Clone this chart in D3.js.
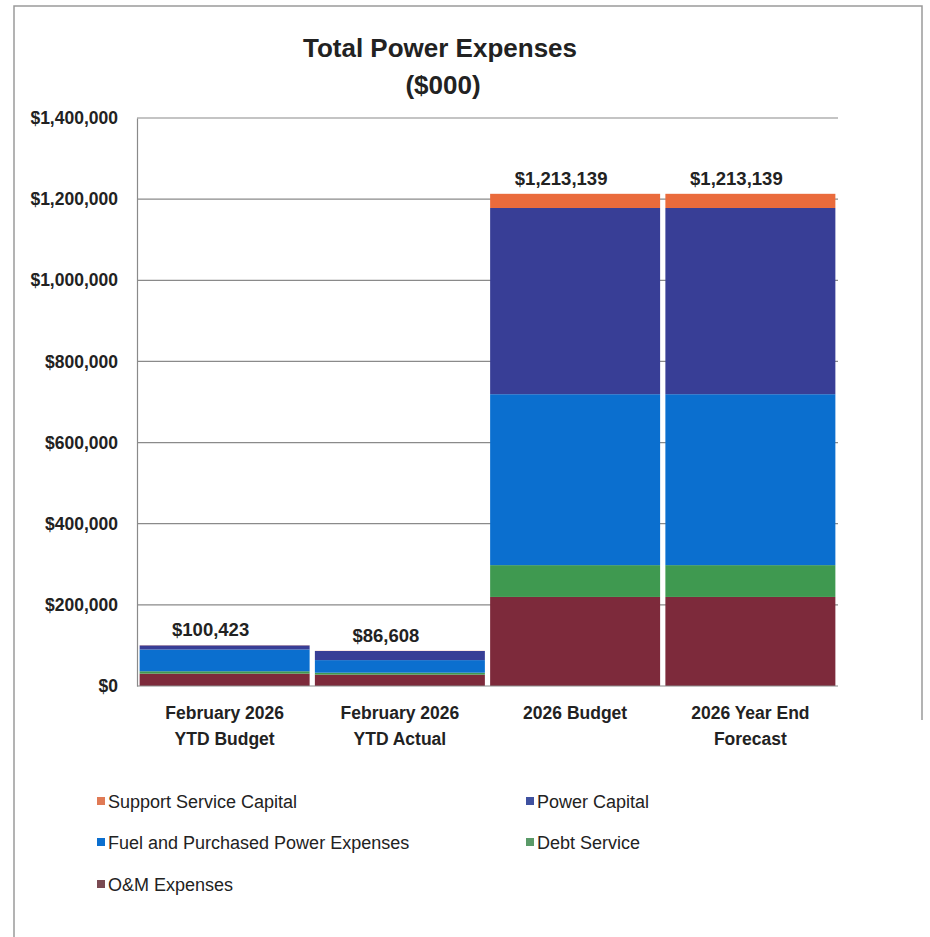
<!DOCTYPE html>
<html>
<head>
<meta charset="utf-8">
<script src="https://cdn.jsdelivr.net/npm/d3@7"></script>
<style>
  html, body { margin: 0; padding: 0; background: #fff; }
  svg text { font-family: "Liberation Sans Narrow", "Arial Narrow", "Liberation Sans", Arial, sans-serif; fill: #222; }
</style>
</head>
<body>
<svg id="chart" width="930" height="937"></svg>
<script>
// Categories along the x axis (two-line labels)
const categories = ["February 2026\nYTD Budget", "February 2026\nYTD Actual", "2026 Budget", "2026 Year End\nForecast"];

// Series values in $000, stacked bottom to top
const omExpenses        = [30500, 28000, 219500, 219500];
const debtService       = [5800, 4800, 78400, 78400];
const fuelPurchased     = [53800, 31000, 421300, 421300];
const powerCapital      = [9900, 22500, 459000, 459000];
const supportCapital    = [423, 308, 34939, 34939];

// Totals printed above each bar
const totals = [100423, 86608, 1213139, 1213139];

const seriesNames = ["O&M Expenses", "Debt Service", "Fuel and Purchased Power Expenses", "Power Capital", "Support Service Capital"];
const seriesColors = ["#7d2a3b", "#3f9950", "#0b6fcf", "#383e96", "#ea6b3c"];
const legendColors = ["#7a4a52", "#5a9a68", "#0b6fcf", "#3f51a0", "#e07a55"];

const yTicks = [0, 200000, 400000, 600000, 800000, 1000000, 1200000, 1400000];

const svg = d3.select("#chart");

// Outer frame
svg.append("path")
  .attr("d", "M14,937 L14,6 L922,6 L922,720")
  .attr("fill", "none").attr("stroke", "#9a9a9a").attr("stroke-width", 1.5);

const margin = { left: 137, right: 838, top: 118, bottom: 686 };

const x = d3.scaleBand()
  .domain(d3.range(categories.length))
  .range([margin.left, margin.right])
  .paddingInner(0.03)
  .paddingOuter(0.015);

const y = d3.scaleLinear().domain([0, 1400000]).range([margin.bottom, margin.top]);

// Gridlines
svg.append("g").selectAll("line").data(yTicks.slice(1)).join("line")
  .attr("x1", margin.left).attr("x2", margin.right)
  .attr("y1", d => y(d)).attr("y2", d => y(d))
  .attr("stroke", "#8a8a8a").attr("stroke-width", 1.2);

// Y axis
const yAxis = d3.axisLeft(y).tickValues(yTicks).tickSize(0).tickPadding(19)
  .tickFormat(d => "$" + d3.format(",")(d));
const gy = svg.append("g").attr("transform", `translate(${margin.left},0)`).call(yAxis);
gy.select(".domain").attr("stroke", "#8a8a8a").attr("stroke-width", 1.2);
gy.selectAll("text").attr("font-size", 17.5).attr("font-weight", "bold").style("fill", "#222")
  .style("font-family", '"Liberation Sans Narrow", "Arial Narrow", "Liberation Sans", sans-serif');

// Stacked data
const rows = categories.map((c, i) => ({
  i,
  "O&M Expenses": omExpenses[i],
  "Debt Service": debtService[i],
  "Fuel and Purchased Power Expenses": fuelPurchased[i],
  "Power Capital": powerCapital[i],
  "Support Service Capital": supportCapital[i]
}));
const stacked = d3.stack().keys(seriesNames)(rows);

svg.append("g").selectAll("g").data(stacked).join("g")
  .attr("fill", (d, k) => seriesColors[k])
  .selectAll("rect").data(d => d).join("rect")
  .attr("x", d => x(d.data.i))
  .attr("width", x.bandwidth())
  .attr("y", d => y(d[1]))
  .attr("height", d => y(d[0]) - y(d[1]));

// Bottom baseline
svg.append("line")
  .attr("x1", margin.left).attr("x2", margin.right)
  .attr("y1", margin.bottom).attr("y2", margin.bottom)
  .attr("stroke", "#8a8a8a").attr("stroke-width", 1.2);

// Total labels, set slightly left of the bar centre
svg.append("g").selectAll("text").data(totals).join("text")
  .attr("x", (d, i) => x(i) + x.bandwidth() / 2 - 14)
  .attr("y", d => y(d) - 9)
  .attr("text-anchor", "middle")
  .attr("font-size", 18.5).attr("font-weight", "bold")
  .text(d => "$" + d3.format(",")(d));

// X axis labels
const xl = svg.append("g").selectAll("text").data(categories).join("text")
  .attr("x", (d, i) => x(i) + x.bandwidth() / 2)
  .attr("y", 719)
  .attr("text-anchor", "middle")
  .attr("font-size", 17.5).attr("font-weight", "bold");
xl.each(function(d) {
  const t = d3.select(this);
  d.split("\n").forEach((line, j) => {
    t.append("tspan").attr("x", t.attr("x")).attr("dy", j === 0 ? 0 : 26).text(line);
  });
});

// Title
const title = svg.append("text").attr("x", 440).attr("y", 57).attr("text-anchor", "middle")
  .attr("font-size", 26).attr("font-weight", "bold");
title.append("tspan").attr("x", 440).text("Total Power Expenses");
title.append("tspan").attr("x", 443).attr("dy", 37).text("($000)");

// Legend
const legendItems = [
  { name: "Support Service Capital", k: 4, lx: 97, ly: 801 },
  { name: "Power Capital", k: 3, lx: 526, ly: 801 },
  { name: "Fuel and Purchased Power Expenses", k: 2, lx: 97, ly: 842 },
  { name: "Debt Service", k: 1, lx: 526, ly: 842 },
  { name: "O&M Expenses", k: 0, lx: 97, ly: 884 }
];
const lg = svg.append("g").selectAll("g").data(legendItems).join("g")
  .attr("transform", d => `translate(${d.lx},${d.ly})`);
lg.append("rect").attr("x", 0).attr("y", -4).attr("width", 8).attr("height", 8)
  .attr("fill", d => legendColors[d.k]);
lg.append("text").attr("x", 11).attr("y", 6.5).attr("font-size", 18)
  .text(d => d.name);
</script>
</body>
</html>
